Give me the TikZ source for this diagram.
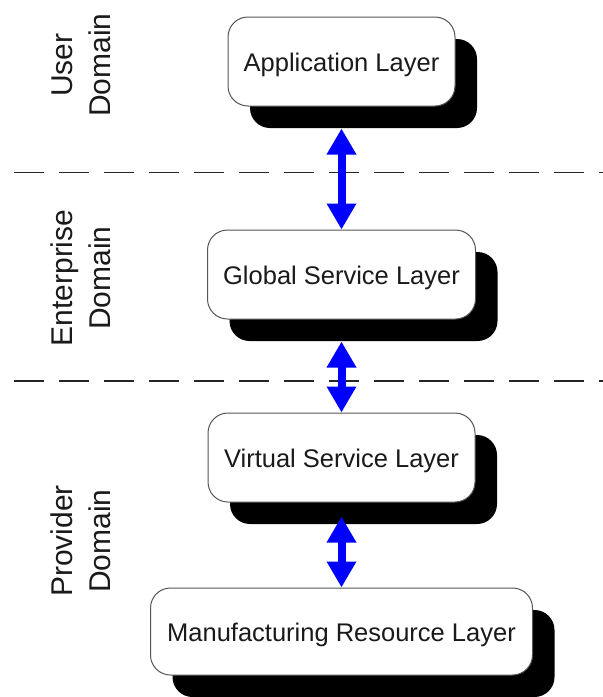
\documentclass[tikz,border=0pt]{standalone}
\usepackage{fontspec}
\setmainfont{Liberation Sans}
\usetikzlibrary{arrows.meta,shadows}
\definecolor{boxline}{HTML}{555555}
\definecolor{txt}{HTML}{1A1A1A}
\definecolor{arrowblue}{HTML}{0000FF}
\tikzset{
  layerbox/.style={draw=boxline, line width=1pt, fill=white, rounded corners=20pt,
    minimum height=89pt, inner sep=0pt, text=txt, text height=19pt, text depth=0pt,
    font=\fontsize{25.5}{30}\selectfont,
    drop shadow={shadow xshift=22pt, shadow yshift=-22pt, fill=black, opacity=1}},
  domainlabel/.style={rotate=90, align=center, text=txt, inner sep=0pt,
    font=\fontsize{30}{38}\selectfont},
  biarrow/.style={draw=arrowblue, line width=8pt,
    {Triangle[width=28pt,length=26pt]}-{Triangle[width=28pt,length=26pt]}},
  sep/.style={draw=black!85, line width=1.6pt, dash pattern=on 30pt off 15pt}
}
\begin{document}
\begin{tikzpicture}[x=1pt,y=1pt]
\useasboundingbox (0,0) rectangle (603,-697);
% separators
\draw[sep] (14,-172.5) -- (603,-172.5);
\draw[sep] (14,-381) -- (603,-381);
% layers
\node[layerbox, minimum width=227pt] (app) at (341.5,-61.5) {Application Layer};
\node[layerbox, minimum width=268pt] (gsl) at (341.5,-274.5) {Global Service Layer};
\node[layerbox, minimum width=267pt] (vsl) at (341.5,-457.5) {Virtual Service Layer};
\node[layerbox, minimum width=382pt, minimum height=87pt] (mrl) at (341.5,-631.5) {Manufacturing Resource Layer};
% arrows
\draw[biarrow, shorten <=22pt] (app) -- (gsl);
\draw[biarrow, shorten <=22pt] (gsl) -- (vsl);
\draw[biarrow, shorten <=14pt] (vsl) -- (mrl);
% domain labels
\node[domainlabel] (ud) at (81,-65) {User\\Domain};
\node[domainlabel] (ed) at (81,-278) {Enterprise\\Domain};
\node[domainlabel] (pd) at (81,-541) {Provider\\Domain};
\end{tikzpicture}
\end{document}
